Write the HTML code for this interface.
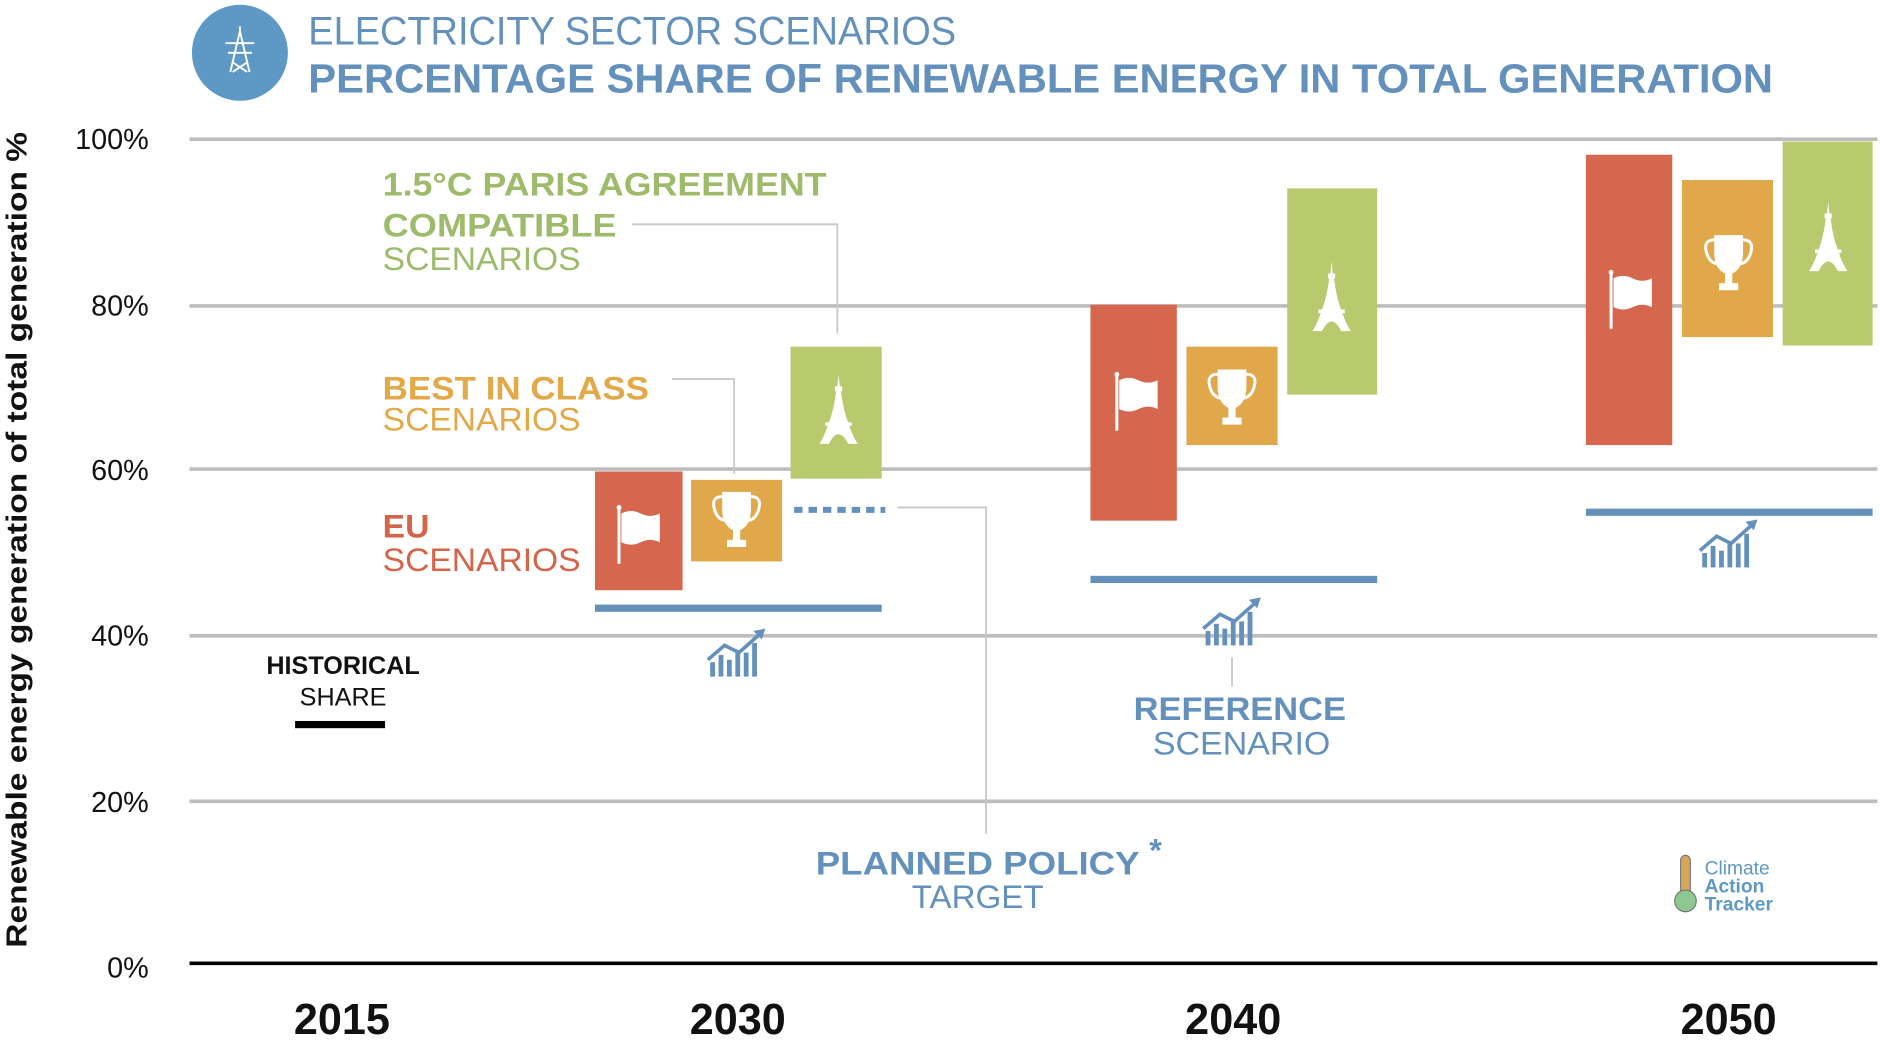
<!DOCTYPE html>
<html><head><meta charset="utf-8"><style>
html,body{margin:0;padding:0;background:#fff;}
svg{display:block;}
text{font-family:"Liberation Sans",sans-serif;}
</style></head><body>
<svg width="1881" height="1048" viewBox="0 0 1568 873.6" preserveAspectRatio="none" xmlns="http://www.w3.org/2000/svg">
<defs>
<g id="flag"><line x1="0" y1="-22" x2="0" y2="24" stroke="#fff" stroke-width="2.5"/><circle cx="0" cy="-23" r="2" fill="#fff"/><path d="M2,-18 Q10,-22 18,-18 T34,-18 L34,6 Q26,2 18,6 T2,6 Z" fill="#fff"/></g>
<g id="trophy"><path d="M-12,-20 H12 V-6 Q12,8 3,12 V20 H8 V26 H-8 V20 H-3 V12 Q-12,8 -12,-6 Z" fill="#fff"/><path d="M-12,-16 Q-22,-16 -18,-4 Q-15,4 -8,4" stroke="#fff" stroke-width="2.5" fill="none"/><path d="M12,-16 Q22,-16 18,-4 Q15,4 8,4" stroke="#fff" stroke-width="2.5" fill="none"/></g>
<g id="eiffel"><path d="M0,-30 L1,-20 L3,-20 L3,-16 L2,-16 Q4,0 8,10 L11,10 L11,13 L9,13 Q12,22 16,28 L8,28 Q4,20 0,20 Q-4,20 -8,28 L-16,28 Q-12,22 -9,13 L-11,13 L-11,10 L-8,10 Q-4,0 -2,-16 L-3,-16 L-3,-20 L-1,-20 Z" fill="#fff"/></g>
<g id="growth" fill="#6490bc"><rect x="-22" y="6" width="4" height="12"/><rect x="-15" y="0" width="4" height="18"/><rect x="-8" y="4" width="4" height="14"/><rect x="-1" y="-4" width="4" height="22"/><rect x="6" y="-2" width="4" height="20"/><rect x="13" y="-10" width="4" height="28"/><path d="M-24,4 L-10,-8 L2,-2 L20,-18" stroke="#6490bc" stroke-width="3" fill="none"/><path d="M24,-22 L14,-20 L21,-13 Z"/></g>
</defs>
<!-- header -->
<circle cx="200" cy="44" r="40" fill="#5e98c4"/>
<g stroke="#fff" stroke-width="1.6" fill="none"><path d="M200,26 L192,60 M200,26 L208,60 M188,36 H212 M190,44 H210 M194,52 L206,60 M206,52 L194,60 M200,22 V26"/></g>
<text x="257" y="37" font-size="33" fill="#6490bc" textLength="540" lengthAdjust="spacingAndGlyphs">ELECTRICITY SECTOR SCENARIOS</text>
<text x="257" y="77" font-size="34" font-weight="bold" fill="#6490bc" textLength="1221" lengthAdjust="spacingAndGlyphs">PERCENTAGE SHARE OF RENEWABLE ENERGY IN TOTAL GENERATION</text>
<!-- grid -->
<g stroke="#bdbdbd" stroke-width="3"><line x1="158" y1="116" x2="1565" y2="116"/><line x1="158" y1="255" x2="1565" y2="255"/><line x1="158" y1="391" x2="1565" y2="391"/><line x1="158" y1="530" x2="1565" y2="530"/><line x1="158" y1="668" x2="1565" y2="668"/></g>
<line x1="158" y1="803" x2="1565" y2="803" stroke="#000" stroke-width="3"/>
<g font-size="24" fill="#111" text-anchor="end"><text x="124" y="124">100%</text><text x="124" y="263">80%</text><text x="124" y="400">60%</text><text x="124" y="538">40%</text><text x="124" y="677">20%</text><text x="124" y="815">0%</text></g>
<text transform="translate(22,450) rotate(-90)" font-size="24" font-weight="bold" fill="#111" text-anchor="middle" textLength="680" lengthAdjust="spacingAndGlyphs">Renewable energy generation of total generation %</text>
<g font-size="36" font-weight="bold" fill="#111" text-anchor="middle"><text x="285" y="862">2015</text><text x="615" y="862">2030</text><text x="1028" y="862">2040</text><text x="1441" y="862">2050</text></g>
<!-- connectors -->
<g stroke="#c8c8c8" stroke-width="1.5" fill="none"><path d="M527,187 H698 V278"/><path d="M560,316 H612 V395"/><path d="M748,423 H822 V695"/><path d="M1027,548 V572"/></g>
<!-- bars -->
<g fill="#d4674d"><rect x="496" y="393" width="73" height="99"/><rect x="909" y="254" width="72" height="180"/><rect x="1322" y="129" width="72" height="242"/></g>
<g fill="#e0a84b"><rect x="576" y="400" width="76" height="68"/><rect x="989" y="289" width="76" height="82"/><rect x="1402" y="150" width="76" height="131"/></g>
<g fill="#b8ca6d"><rect x="659" y="289" width="76" height="110"/><rect x="1073" y="157" width="75" height="172"/><rect x="1486" y="118" width="75" height="170"/></g>
<g fill="#6490bc"><rect x="496" y="504" width="239" height="6"/><rect x="909" y="480" width="239" height="6"/><rect x="1322" y="424" width="239" height="6"/></g>
<line x1="662" y1="425" x2="738" y2="425" stroke="#6490bc" stroke-width="5" stroke-dasharray="7,5"/>
<rect x="246" y="601" width="75" height="6" fill="#000"/>
<use href="#flag" x="516" y="446"/><use href="#flag" x="931" y="335"/><use href="#flag" x="1343" y="250"/>
<use href="#trophy" x="614" y="430"/><use href="#trophy" x="1027" y="328"/><use href="#trophy" x="1441" y="216"/>
<use href="#eiffel" x="699" y="342"/><use href="#eiffel" x="1110" y="248"/><use href="#eiffel" x="1524" y="198"/>
<use href="#growth" x="614" y="546"/><use href="#growth" x="1027" y="520"/><use href="#growth" x="1441" y="455"/>
<!-- labels -->
<g font-size="27"><text x="319" y="163" font-weight="bold" fill="#9dbb6a" textLength="370" lengthAdjust="spacingAndGlyphs">1.5°C PARIS AGREEMENT</text>
<text x="319" y="197" font-weight="bold" fill="#9dbb6a" textLength="195" lengthAdjust="spacingAndGlyphs">COMPATIBLE</text>
<text x="319" y="225" fill="#9dbb6a" textLength="165" lengthAdjust="spacingAndGlyphs">SCENARIOS</text>
<text x="319" y="333" font-weight="bold" fill="#e3a847" textLength="222" lengthAdjust="spacingAndGlyphs">BEST IN CLASS</text>
<text x="319" y="359" fill="#e3a847" textLength="165" lengthAdjust="spacingAndGlyphs">SCENARIOS</text>
<text x="319" y="448" font-weight="bold" fill="#d4654b" textLength="39" lengthAdjust="spacingAndGlyphs">EU</text>
<text x="319" y="476" fill="#d4654b" textLength="165" lengthAdjust="spacingAndGlyphs">SCENARIOS</text>
<text x="945" y="600" font-weight="bold" fill="#6490bc" textLength="177" lengthAdjust="spacingAndGlyphs">REFERENCE</text>
<text x="961" y="629" fill="#6490bc" textLength="148" lengthAdjust="spacingAndGlyphs">SCENARIO</text>
<text x="680" y="729" font-weight="bold" fill="#6490bc" textLength="270" lengthAdjust="spacingAndGlyphs">PLANNED POLICY</text>
<text x="958" y="718" font-weight="bold" fill="#6490bc">*</text>
<text x="760" y="757" fill="#6490bc" textLength="110" lengthAdjust="spacingAndGlyphs">TARGET</text></g>
<g font-size="21" fill="#111" text-anchor="middle"><text x="286" y="562" font-weight="bold">HISTORICAL</text><text x="286" y="588">SHARE</text></g>
<!-- logo -->
<rect x="1401" y="713" width="8" height="36" rx="4" fill="#d9a75a" stroke="#777" stroke-width="1"/>
<circle cx="1405" cy="751" r="9" fill="#8cc88f" stroke="#777" stroke-width="1"/>
<g font-size="16" fill="#5e98c4"><text x="1421" y="729">Climate</text><text x="1421" y="744" font-weight="bold">Action</text><text x="1421" y="759" font-weight="bold">Tracker</text></g>
</svg>
</body></html>
